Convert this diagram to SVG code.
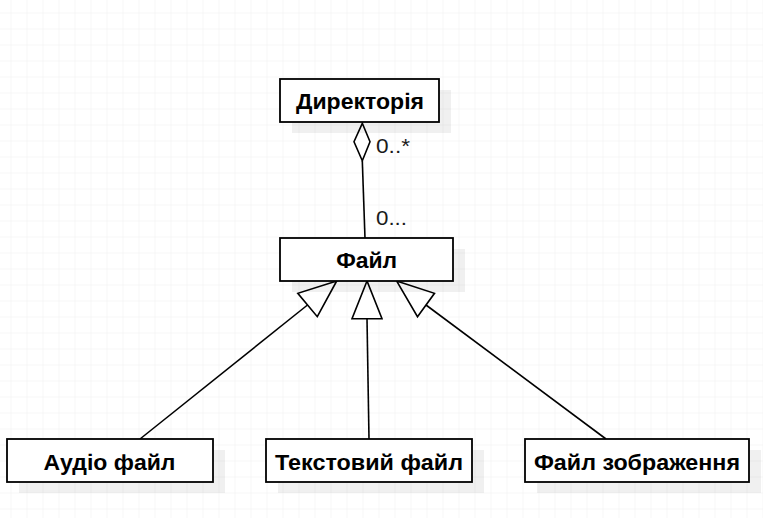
<svg xmlns="http://www.w3.org/2000/svg" width="763" height="518" viewBox="0 0 763 518">
  <defs>
    <pattern id="grid" x="10.5" y="12.5" width="16" height="16" patternUnits="userSpaceOnUse">
      <path d="M0 0H16M0 0V16" fill="none" stroke="#f0f0f0" stroke-width="1"/>
    </pattern>
    <style>
      .box { fill: #ffffff; stroke: #000000; stroke-width: 1.8; }
      .shadow { fill: #000000; fill-opacity: 0.06; stroke: none; }
      .name { font-family: "Liberation Sans", Arial, sans-serif; font-weight: bold; font-size: 22px; fill: #000000; text-anchor: middle; }
      .mult { font-family: "Liberation Sans", Arial, sans-serif; font-size: 20px; fill: #1a1a1a; }
      .edge { fill: none; stroke: #000000; stroke-width: 1.6; }
      .head { fill: #ffffff; stroke: #000000; stroke-width: 1.6; stroke-linejoin: miter; }
    </style>
  </defs>
  <rect x="0" y="0" width="763" height="518" fill="#ffffff"/>
  <rect x="0" y="0" width="763" height="518" fill="url(#grid)"/>

  <g id="connectors">
    <path class="edge" d="M362.3 160.7 L365 238"/>
    <path class="head" d="M362.3 123.3 L354 141.7 L362.3 160.7 L370 141.7 Z"/>
    <text class="mult" x="376" y="153" textLength="34" lengthAdjust="spacingAndGlyphs">0..*</text>
    <text class="mult" x="376" y="224.8" textLength="31" lengthAdjust="spacingAndGlyphs">0...</text>

    <path class="edge" d="M307.5 305 L140 439"/>
    <path class="head" d="M336.7 281 L297.8 293.3 L317.3 316.7 Z"/>

    <path class="edge" d="M367 318.7 L369 439"/>
    <path class="head" d="M367 281 L352 318.7 L382 318.7 Z"/>

    <path class="edge" d="M426 305 L606 439"/>
    <path class="head" d="M396.6 281 L434.5 293.3 L417.5 316.7 Z"/>
  </g>

  <g id="node-directory">
    <rect class="shadow" x="292" y="90" width="159" height="43"/>
    <rect class="box" x="280" y="79" width="159" height="43"/>
    <text class="name" x="360" y="109.3" textLength="128" lengthAdjust="spacingAndGlyphs">Директорія</text>
  </g>

  <g id="node-file">
    <rect class="shadow" x="292" y="249" width="173" height="43"/>
    <rect class="box" x="280" y="238" width="173" height="43"/>
    <text class="name" x="366.7" y="267.5" textLength="61" lengthAdjust="spacingAndGlyphs">Файл</text>
  </g>

  <g id="node-audio">
    <rect class="shadow" x="19" y="450" width="206" height="43"/>
    <rect class="box" x="7" y="439" width="206" height="43"/>
    <text class="name" x="109.5" y="470" textLength="132" lengthAdjust="spacingAndGlyphs">Аудіо файл</text>
  </g>

  <g id="node-text">
    <rect class="shadow" x="278" y="450" width="206" height="43"/>
    <rect class="box" x="266" y="439" width="206" height="43"/>
    <text class="name" x="369" y="470" textLength="188" lengthAdjust="spacingAndGlyphs">Текстовий файл</text>
  </g>

  <g id="node-image">
    <rect class="shadow" x="537" y="450" width="224" height="43"/>
    <rect class="box" x="525" y="439" width="224" height="43"/>
    <text class="name" x="637" y="470" textLength="206" lengthAdjust="spacingAndGlyphs">Файл зображення</text>
  </g>
</svg>
